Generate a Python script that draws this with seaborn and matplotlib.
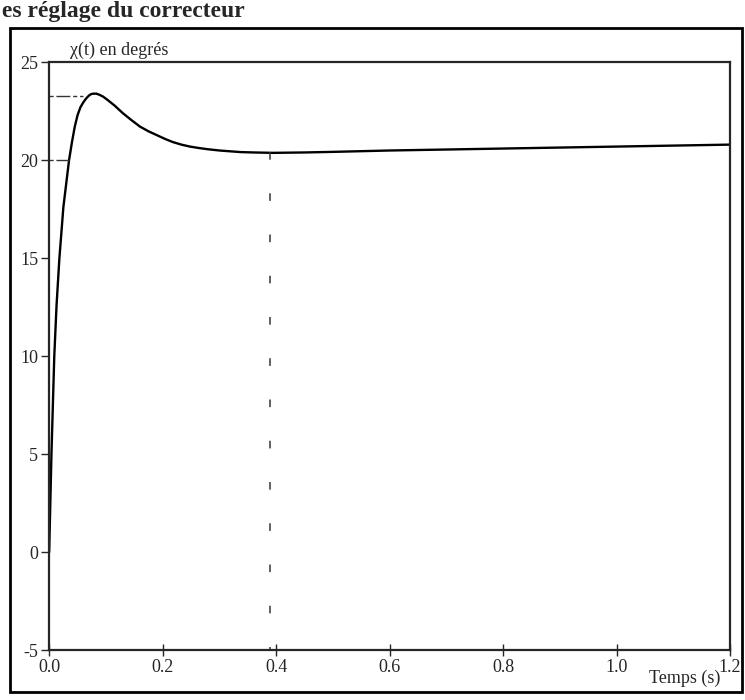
import matplotlib
matplotlib.use("Agg")
import matplotlib.pyplot as plt
import matplotlib.patches as mpatches
import pandas as pd
import seaborn as sns

temps = [0.0, 0.004, 0.009, 0.013, 0.018, 0.025, 0.035, 0.04, 0.045, 0.05,
         0.055, 0.06, 0.065, 0.07, 0.074, 0.078, 0.083, 0.088, 0.095, 0.102,
         0.115, 0.13, 0.145, 0.16, 0.175, 0.19, 0.205, 0.218, 0.233, 0.248,
         0.263, 0.278, 0.3, 0.337, 0.36, 0.395, 0.45, 0.5, 0.6, 0.8, 1.0, 1.2]
chi = [0.0, 5.0, 10.0, 12.6, 15.0, 17.6, 20.0, 20.9, 21.7, 22.3,
       22.7, 22.95, 23.15, 23.3, 23.38, 23.4, 23.4, 23.35, 23.25, 23.1,
       22.8, 22.4, 22.05, 21.72, 21.48, 21.28, 21.08, 20.93, 20.8, 20.7,
       20.63, 20.57, 20.5, 20.42, 20.4, 20.38, 20.4, 20.43, 20.5, 20.6, 20.7, 20.8]

peak_val = 23.3
peak_t = 0.06
level_val = 20.0
level_t = 0.035
settle_t = 0.39
settle_val = 20.4

x_ticks = [0.0, 0.2, 0.4, 0.6, 0.8, 1.0, 1.2]
x_labels = ["0.0", "0.2", "0.4", "0.6", "0.8", "1.0", "1.2"]
y_ticks = [-5, 0, 5, 10, 15, 20, 25]

sns.set_style("ticks")
plt.rcParams["font.family"] = ["Liberation Serif", "DejaVu Serif"]
plt.rcParams["axes.unicode_minus"] = False

df = pd.DataFrame({"t": temps, "chi": chi})

fig = plt.figure(figsize=(7.45, 7.0), dpi=100)
ax = fig.add_axes([0.066, 0.071, 0.914, 0.84])

sns.lineplot(data=df, x="t", y="chi", color="black", linewidth=1.7, ax=ax,
             sort=False)

# dashed construction lines
dash_col = "#3a3040"
ax.plot([0, peak_t], [peak_val, peak_val], color=dash_col, lw=1.0,
        dashes=(3, 2, 10, 2))
ax.plot([0, level_t], [level_val, level_val], color=dash_col, lw=1.0,
        dashes=(3, 2, 10, 2))
ax.plot([settle_t, settle_t], [settle_val, -5], color=dash_col, lw=1.1,
        dashes=(5, 22))

ax.set_xlim(0, 1.2)
ax.set_ylim(-5, 25)
ax.set_xticks(x_ticks)
ax.set_xticklabels(x_labels)
ax.set_yticks(y_ticks)
ax.set_xlabel("")
ax.set_ylabel("")
for s in ax.spines.values():
    s.set_visible(True)
    s.set_linewidth(1.6)
ax.tick_params(axis="y", direction="out", length=6, width=1, labelsize=13, pad=2)
ax.tick_params(axis="x", direction="inout", length=8, width=1, labelsize=13, pad=2)

ax.text(0.03, 1.006, "χ(t) en degrés", transform=ax.transAxes,
        ha="left", va="bottom", fontsize=13)
ax.text(0.985, -0.048, "Temps (s)", transform=ax.transAxes,
        ha="right", va="center", fontsize=13)

# frame around the figure, and the header above it
fig.patches.append(mpatches.Rectangle((0.014, 0.012), 0.982, 0.948,
                                      transform=fig.transFigure, fill=False,
                                      edgecolor="black", linewidth=2.0))
fig.text(0.003, 0.999, "es réglage du correcteur", ha="left", va="top",
         fontsize=17, fontweight="bold", family=["Liberation Serif", "DejaVu Serif"])

fig.savefig("out.png", dpi=100)
